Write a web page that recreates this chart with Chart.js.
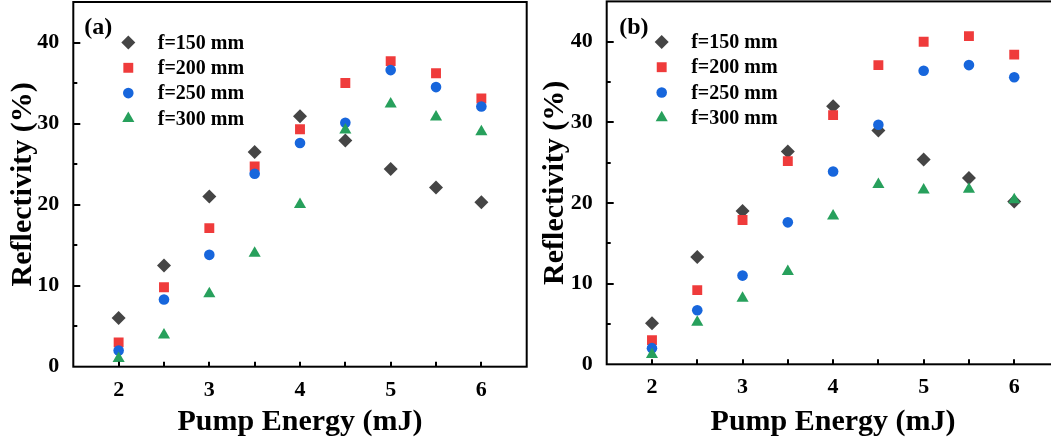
<!DOCTYPE html>
<html>
<head>
<meta charset="utf-8">
<script src="https://cdn.jsdelivr.net/npm/chart.js@4/dist/chart.umd.min.js"></script>
<style>
    body { margin: 0; background: #fff; overflow: hidden; width: 1051px; height: 442px; position: relative; }
    canvas { position: absolute; top: 0; }
    #chartA { left: 0; }
    #chartB { left: 532px; }
</style>
</head>
<body>
<canvas id="chartA" width="530" height="442"></canvas>
<canvas id="chartB" width="530" height="442"></canvas>
<script>
// pump energy (mJ)
const energies = [2, 2.5, 3, 3.5, 4, 4.5, 5, 5.5, 6]

const seriesLabels = ['f=150 mm', 'f=200 mm', 'f=250 mm', 'f=300 mm']

// panel (a) reflectivity (%)
const a150 = [6.0, 12.5, 21.0, 26.5, 30.9, 27.9, 24.4, 22.1, 20.3]
const a200 = [3.0, 9.8, 17.1, 24.7, 29.3, 35.0, 37.7, 36.2, 33.1]
const a250 = [2.0, 8.3, 13.8, 23.8, 27.6, 30.1, 36.6, 34.5, 32.1]
const a300 = [1.0, 3.9, 9.0, 14.0, 20.0, 29.2, 32.4, 30.8, 29.0]

// panel (b) reflectivity (%)
const b150 = [5.1, 13.3, 19.0, 26.4, 32.0, 29.0, 25.4, 23.1, 20.2]
const b200 = [3.0, 9.2, 17.9, 25.2, 30.9, 37.1, 40.0, 40.7, 38.4]
const b250 = [2.0, 6.7, 11.0, 17.6, 23.9, 29.7, 36.4, 37.1, 35.6]
const b300 = [1.2, 5.2, 8.2, 11.5, 18.4, 22.3, 21.6, 21.7, 20.4]

const styles = [
    { pointStyle: 'rectRot', radius: 7, color: '#454545' },
    { pointStyle: 'rect', radius: 7, color: '#ef3b3b' },
    { pointStyle: 'circle', radius: 5.3, color: '#1766dc' },
    { pointStyle: 'triangle', radius: 7, color: '#27a05c' }
]

const FONT = "'Liberation Serif', 'Times New Roman', serif"
Chart.defaults.font.family = FONT
Chart.defaults.font.weight = 'bold'
Chart.defaults.color = '#000'

function drawMarker(ctx, style, x, y) {
    ctx.save()
    ctx.fillStyle = style.color
    if (Chart.helpers && Chart.helpers.drawPoint) {
        Chart.helpers.drawPoint(ctx, { pointStyle: style.pointStyle, radius: style.radius, rotation: 0, borderWidth: 0 }, x, y)
    } else {
        ctx.beginPath()
        ctx.arc(x, y, style.radius, 0, Math.PI * 2)
        ctx.fill()
    }
    ctx.restore()
}

const framePlugin = {
    id: 'frame',
    afterDraw(chart, args, opts) {
        const ctx = chart.ctx
        const area = chart.chartArea
        const xs = chart.scales.x
        const ys = chart.scales.y
        ctx.save()
        ctx.strokeStyle = '#000'
        ctx.lineWidth = 2
        ctx.strokeRect(area.left, area.top, area.right - area.left, area.bottom - area.top)

        // inward ticks
        ctx.beginPath()
        xs.ticks.forEach(t => {
            if (t.value <= xs.min || t.value >= xs.max) return
            const px = Math.round(xs.getPixelForValue(t.value))
            ctx.moveTo(px, area.bottom)
            ctx.lineTo(px, area.bottom - 5)
        })
        ys.ticks.forEach(t => {
            if (t.value <= ys.min || t.value >= ys.max) return
            const py = Math.round(ys.getPixelForValue(t.value))
            const len = t.value % 10 === 0 ? 7 : 4
            ctx.moveTo(area.left, py)
            ctx.lineTo(area.left + len, py)
        })
        ctx.stroke()

        // panel tag
        ctx.fillStyle = '#000'
        ctx.textBaseline = 'middle'
        ctx.textAlign = 'left'
        ctx.font = 'bold 24px ' + FONT
        ctx.fillText(opts.tag, area.left + opts.tagX, area.top + 26)

        // legend
        ctx.font = 'bold 20px ' + FONT
        seriesLabels.forEach((label, i) => {
            const y = area.top + 40.5 + i * 25.3
            drawMarker(ctx, styles[i], area.left + 55, y)
            ctx.fillStyle = '#000'
            ctx.fillText(label, area.left + 84.5, y + 1)
        })
        ctx.restore()
    }
}

function makePanel(canvasId, tag, tagX, series, dims) {
    const datasets = series.map((values, i) => ({
        label: seriesLabels[i],
        data: energies.map((e, k) => ({ x: e, y: values[k] })),
        pointStyle: styles[i].pointStyle,
        pointRadius: styles[i].radius,
        pointBackgroundColor: styles[i].color,
        pointBorderWidth: 0,
        order: series.length - 1 - i
    }))

    return new Chart(document.getElementById(canvasId), {
        type: 'scatter',
        data: { datasets: datasets },
        plugins: [framePlugin],
        options: {
            responsive: false,
            animation: false,
            layout: {
                autoPadding: false,
                padding: { top: dims.top, right: dims.right, left: 0, bottom: 0 }
            },
            plugins: {
                legend: { display: false },
                tooltip: { enabled: false },
                frame: { tag: tag, tagX: tagX }
            },
            scales: {
                x: {
                    type: 'linear',
                    min: 1.5,
                    max: 6.5,
                    afterFit: scale => {
                        scale.height = dims.xHeight
                        scale.paddingLeft = 0
                        scale.paddingRight = 0
                    },
                    grid: { display: false },
                    border: { display: false },
                    ticks: {
                        stepSize: 0.5,
                        padding: 2,
                        font: { size: 22, weight: 'bold' },
                        maxRotation: 0,
                        autoSkip: false,
                        callback: v => (v % 1 === 0 ? v : '')
                    },
                    title: {
                        display: true,
                        text: 'Pump Energy (mJ)',
                        font: { size: 30, weight: 'bold' },
                        padding: { top: 0, bottom: 2 }
                    }
                },
                y: {
                    min: 0,
                    max: 45,
                    afterFit: scale => {
                        scale.width = dims.yWidth
                        scale.paddingTop = 0
                        scale.paddingBottom = 0
                    },
                    grid: { display: false },
                    border: { display: false },
                    ticks: {
                        stepSize: 5,
                        padding: 6,
                        font: { size: 22, weight: 'bold' },
                        autoSkip: false,
                        callback: v => (v % 10 === 0 ? v : '')
                    },
                    title: {
                        display: true,
                        text: 'Reflectivity (%)',
                        font: { size: 30, weight: 'bold' },
                        padding: { top: 5, bottom: 0 }
                    }
                }
            }
        }
    })
}

makePanel('chartA', '(a)', 11, [a150, a200, a250, a300],
    { top: 2, right: 3.3, xHeight: 75.3, yWidth: 73.3 })
makePanel('chartB', '(b)', 12.5, [b150, b200, b250, b300],
    { top: 1.4, right: 2.5, xHeight: 77.7, yWidth: 74.7 })
</script>
</body>
</html>
